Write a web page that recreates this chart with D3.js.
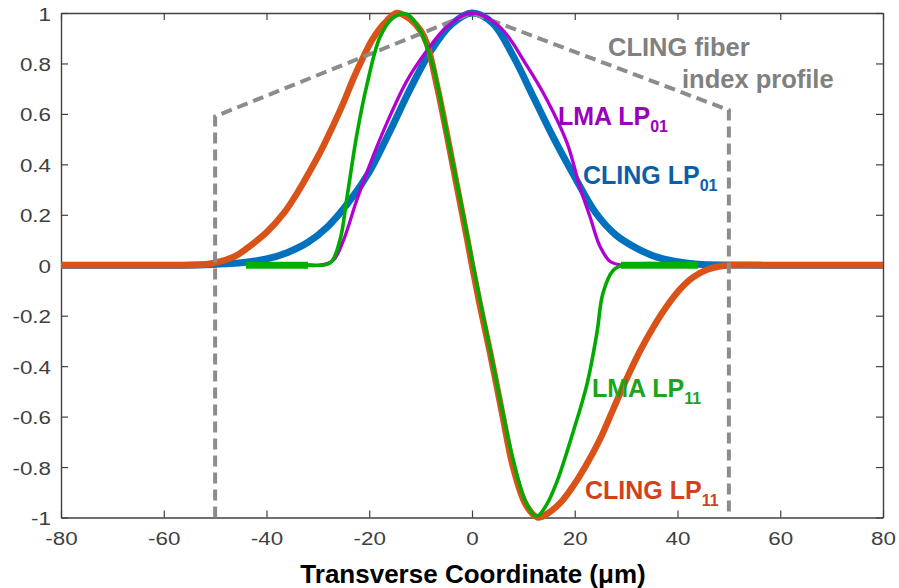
<!DOCTYPE html>
<html>
<head>
<meta charset="utf-8">
<script src="https://cdn.jsdelivr.net/npm/d3@7"></script>
<style>
  html, body { margin: 0; padding: 0; background: #fff; }
  svg { display: block; }
</style>
</head>
<body>
<svg id="chart" width="899" height="588"></svg>
<script>
// ---------------- data ----------------
const xTicks = [-80, -60, -40, -20, 0, 20, 40, 60, 80];
const yTicks = [-1, -0.8, -0.6, -0.4, -0.2, 0, 0.2, 0.4, 0.6, 0.8, 1];
const xTitle = "Transverse Coordinate (\u03bcm)";

// CLING LP01 (blue)
const clingLP01 = [
  [-80, 0], [-60, 0], [-52, 0.002], [-48, 0.006], [-44, 0.012], [-40, 0.025],
  [-36, 0.05], [-32, 0.09], [-28, 0.155], [-24, 0.25], [-20, 0.37], [-16, 0.53],
  [-12, 0.7], [-8, 0.85], [-4, 0.955], [0, 1], [4, 0.96], [8, 0.83], [12, 0.665],
  [16, 0.5], [20, 0.35], [24, 0.21], [28, 0.12], [32, 0.068], [36, 0.032],
  [40, 0.014], [44, 0.004], [50, 0.001], [60, 0], [80, 0]
];

// CLING LP11 (orange)
const clingLP11 = [
  [-80, 0], [-60, 0], [-52, 0.003], [-49.5, 0.012], [-46, 0.037], [-43.5, 0.072],
  [-40, 0.13], [-36.5, 0.21], [-34, 0.287], [-31.5, 0.375], [-29, 0.47], [-27, 0.555],
  [-25, 0.645], [-23.2, 0.735], [-21, 0.832], [-19.3, 0.898], [-17, 0.96], [-14.6, 1.0],
  [-12, 0.975], [-10, 0.93], [-8.8, 0.88], [-6.8, 0.71], [-4.9, 0.52], [-3, 0.32],
  [-1, 0.11], [0, 0], [1.5, -0.155], [3.5, -0.345], [5.8, -0.58], [8, -0.8],
  [10.5, -0.95], [12.8, -1.0], [15, -0.98], [17.5, -0.935], [19.7, -0.875], [22, -0.8],
  [24.9, -0.69], [27.5, -0.57], [30.1, -0.45], [32.7, -0.34], [35.3, -0.245],
  [38, -0.16], [40.5, -0.095], [43, -0.048], [45.7, -0.018], [48, -0.005],
  [50.2, 0], [60, 0], [80, 0]
];

// LMA LP01 (purple)
const lmaLP01 = [
  [-32, 0], [-29.6, 0], [-27, 0.02], [-25, 0.1], [-22.4, 0.26], [-19.3, 0.43],
  [-16, 0.59], [-12.7, 0.73], [-8.8, 0.85], [-4.9, 0.945], [0, 1], [5.4, 0.945],
  [10.7, 0.79], [14.6, 0.655], [18.5, 0.485], [21, 0.31], [23, 0.19], [24.9, 0.075],
  [26.9, 0.015], [29.4, 0], [31, 0]
];

// LMA LP11 (green)
const lmaLP11 = [
  [-44, 0], [-32, 0], [-27.6, 0.01], [-25.7, 0.1], [-24.4, 0.26], [-22.4, 0.52],
  [-20.4, 0.72], [-17.9, 0.905], [-15.4, 0.98], [-12.7, 0.995], [-10.1, 0.93],
  [-7.6, 0.79], [-4.9, 0.52], [-2.3, 0.26], [0.2, 0], [3.5, -0.335], [8, -0.77],
  [10.5, -0.94], [12.6, -0.995], [14.5, -0.95], [16.5, -0.86], [19.7, -0.66],
  [22.4, -0.47], [24.3, -0.27], [25.5, -0.11], [27.5, -0.02], [29.4, 0], [44, 0]
];
// LMA LP11 flat (thick) segments outside the core
const lmaLP11PadLeft = [[-44, 0], [-31.9, 0]];
const lmaLP11PadRight = [[29, 0], [44, 0]];

// CLING fiber index profile (dashed)
const indexProfile = [[-50, -1], [-50, 0.59], [0, 1], [50, 0.615], [50, -1]];

// annotation texts
const annoProfile = ["CLING fiber", "index profile"];
const annoModes = [
  { main: "LMA LP", sub: "01", key: "lma01" },
  { main: "CLING LP", sub: "01", key: "cling01" },
  { main: "LMA LP", sub: "11", key: "lma11" },
  { main: "CLING LP", sub: "11", key: "cling11" }
];

// ---------------- drawing ----------------
const svg = d3.select("#chart");
const L = 61, R = 883, T = 13, B = 517.5;
const x = d3.scaleLinear().domain([-80, 80]).range([L, R]);
const y = d3.scaleLinear().domain([-1, 1]).range([B, T]);

const axisColor = "#404040";
const tickFont = "Liberation Sans, Arial, Helvetica, sans-serif";
const sx = 1.28;
const fmt = d => String(+(+d).toFixed(1));

// axes box
const gB = svg.append("g").attr("transform", `translate(0,${B})`)
  .call(d3.axisBottom(x).tickValues(xTicks).tickSizeInner(-7).tickSizeOuter(0).tickFormat(fmt));
const gT = svg.append("g").attr("transform", `translate(0,${T})`)
  .call(d3.axisTop(x).tickValues(xTicks).tickSizeInner(-7).tickSizeOuter(0).tickFormat(""));
const gL = svg.append("g").attr("transform", `translate(${L},0)`)
  .call(d3.axisLeft(y).tickValues(yTicks).tickSizeInner(-7).tickSizeOuter(0).tickFormat(fmt));
const gR = svg.append("g").attr("transform", `translate(${R},0)`)
  .call(d3.axisRight(y).tickValues(yTicks).tickSizeInner(-7).tickSizeOuter(0).tickFormat(""));

[gB, gT, gL, gR].forEach(g => {
  g.select(".domain").attr("stroke", axisColor).attr("stroke-width", 1.4);
  g.selectAll(".tick line").attr("stroke", axisColor).attr("stroke-width", 1.2);
});
gB.selectAll(".tick text")
  .attr("x", 0).attr("y", 0).attr("dy", null)
  .attr("transform", `translate(0,27.5) scale(${sx},1)`)
  .attr("text-anchor", "middle")
  .attr("fill", axisColor).style("font-family", tickFont).style("font-size", "17.5px");
gL.selectAll(".tick text")
  .attr("x", 0).attr("y", 0).attr("dy", null)
  .attr("transform", `translate(-10,7) scale(${sx},1)`)
  .attr("text-anchor", "end")
  .attr("fill", axisColor).style("font-family", tickFont).style("font-size", "17.5px");

// x title
svg.append("text")
  .attr("x", 473).attr("y", 583)
  .attr("text-anchor", "middle")
  .style("font-family", "Liberation Sans, Arial, sans-serif")
  .style("font-weight", "bold").style("font-size", "26px")
  .attr("fill", "#000")
  .text(xTitle);

const line = d3.line().x(d => x(d[0])).y(d => y(d[1])).curve(d3.curveCatmullRom.alpha(0.5));
const poly = d3.line().x(d => x(d[0])).y(d => y(d[1]));

const plot = svg.append("g");
plot.append("path").datum(clingLP01).attr("d", line)
  .attr("fill", "none").attr("stroke", "#0072BD").attr("stroke-width", 7).attr("stroke-linejoin", "round");
plot.append("path").datum(clingLP11).attr("d", line)
  .attr("fill", "none").attr("stroke", "#D95319").attr("stroke-width", 6.5).attr("stroke-linejoin", "round");
plot.append("path").datum(indexProfile).attr("d", poly)
  .attr("fill", "none").attr("stroke", "#8c8c8c").attr("stroke-width", 4)
  .attr("stroke-dasharray", "11,6");
plot.append("path").datum(lmaLP01).attr("d", line)
  .attr("fill", "none").attr("stroke", "#B000D2").attr("stroke-width", 3.3).attr("stroke-linejoin", "round");
plot.append("path").datum(lmaLP11).attr("d", line)
  .attr("fill", "none").attr("stroke", "#00AA00").attr("stroke-width", 3.6).attr("stroke-linejoin", "round");
[lmaLP11PadLeft, lmaLP11PadRight].forEach(seg => {
  plot.append("path").datum(seg).attr("d", poly)
    .attr("fill", "none").attr("stroke", "#00B000").attr("stroke-width", 7);
});

// annotations
const annoFont = "Liberation Sans, Arial, Helvetica, sans-serif";
svg.append("text").attr("x", 608).attr("y", 56)
  .style("font-family", annoFont).style("font-weight", "bold").style("font-size", "25.5px")
  .attr("fill", "#808080").text(annoProfile[0]);
svg.append("text").attr("x", 682).attr("y", 88)
  .style("font-family", annoFont).style("font-weight", "bold").style("font-size", "25.5px")
  .attr("fill", "#808080").text(annoProfile[1]);

const annoStyle = {
  lma01:   { x: 558, y: 125, color: "#9A00BE" },
  cling01: { x: 583, y: 184, color: "#0A5FA8" },
  lma11:   { x: 592, y: 397, color: "#1AA51A" },
  cling11: { x: 585, y: 499, color: "#D2421A" }
};
annoModes.forEach(a => {
  const s = annoStyle[a.key];
  const t = svg.append("text").attr("x", s.x).attr("y", s.y)
    .style("font-family", annoFont).style("font-weight", "bold").style("font-size", "25px")
    .attr("fill", s.color);
  t.append("tspan").text(a.main);
  t.append("tspan").attr("dy", 7).style("font-size", "16px").text(a.sub);
});
</script>
</body>
</html>
